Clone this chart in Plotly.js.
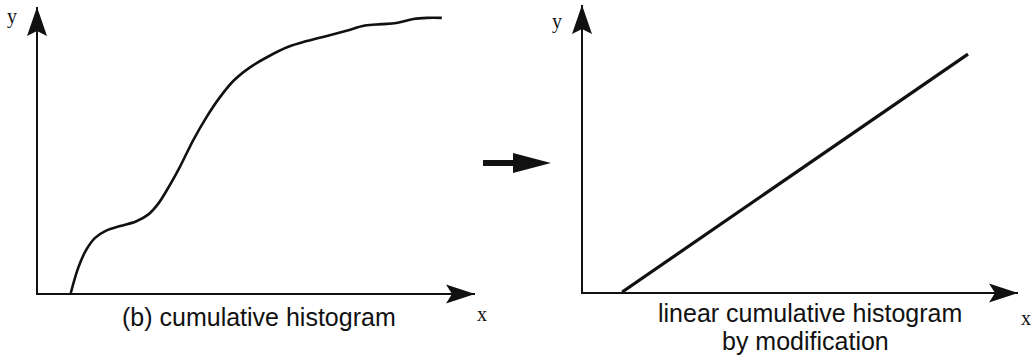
<!DOCTYPE html>
<html>
<head>
<meta charset="utf-8">
<script src="https://cdn.plot.ly/plotly-3.0.1.min.js"></script>
<style>html,body{margin:0;padding:0;background:#fff;}#chart{width:1033px;height:361px;}</style>
</head>
<body>
<div id="chart"></div>
<script>
// ---- data ----
const leftX = [7.5, 9.2, 11.0, 13.0, 15.6, 18.8, 22.4, 25.2, 27.4, 29.5, 32.5, 35.5, 38.6, 41.6, 44.8, 48.6, 52.6, 57.0, 61.5, 66.1, 70.6, 74.8, 78.5, 82.0, 85.9, 89.0, 92.4];
const leftY = [0, 8.8, 15.0, 19.2, 21.8, 23.4, 25.0, 27.4, 31.0, 36.0, 44.2, 53.4, 61.6, 68.4, 74.3, 79.0, 82.6, 85.9, 88.1, 89.9, 91.7, 93.5, 94.0, 94.4, 95.8, 96.2, 96.2];
const rightX = [9.0, 88.5];
const rightY = [0, 82.9];
const axisNames = ['x', 'y'];
const leftCaption = '(b) cumulative histogram';
const rightCaption = ['linear cumulative histogram', 'by modification'];

// ---- geometry ----
const W = 1033, H = 361;
const px = v => v / W;
const py = v => 1 - v / H;
const P = (x, y) => px(x) + ',' + py(y);
const ink = '#111';

// panel frames in pixels: origin and arrow tips
const L = {x0: 38, y0: 293, x1: 475, y1: 7};
const R = {x0: 583, y0: 292, x1: 1018, y1: 5};

function axisDef(d0, d1, anchor) {
  return {domain: [d0, d1], range: [0, 100], anchor: anchor, showline: true, linewidth: 2,
    linecolor: ink, showgrid: false, zeroline: false, showticklabels: false, ticks: '', fixedrange: true};
}

function arrowUp(tx, ty) {
  return {type: 'path', xref: 'paper', yref: 'paper', fillcolor: ink, line: {width: 0},
    path: 'M' + P(tx, ty) + ' L' + P(tx + 10, ty + 29) + ' L' + P(tx, ty + 24) + ' L' + P(tx - 10, ty + 29) + ' Z'};
}
function arrowRight(tx, ty) {
  return {type: 'path', xref: 'paper', yref: 'paper', fillcolor: ink, line: {width: 0},
    path: 'M' + P(tx, ty) + ' L' + P(tx - 29, ty + 9.5) + ' L' + P(tx - 23, ty) + ' L' + P(tx - 29, ty - 9.5) + ' Z'};
}

const traces = [
  {x: leftX, y: leftY, xaxis: 'x', yaxis: 'y', mode: 'lines', type: 'scatter',
   line: {color: ink, width: 2.6, shape: 'spline', smoothing: 1.0}, hoverinfo: 'skip'},
  {x: rightX, y: rightY, xaxis: 'x2', yaxis: 'y2', mode: 'lines', type: 'scatter',
   line: {color: ink, width: 3.2}, hoverinfo: 'skip'}
];

const serif = {family: 'Liberation Serif, Times New Roman, serif', size: 20, color: ink};
const sans = {family: 'Liberation Sans, Arial, Helvetica, sans-serif', size: 25, color: ink};
function ann(text, x, y, font) {
  return {text: text, x: px(x), y: py(y), xref: 'paper', yref: 'paper', showarrow: false,
    xanchor: 'center', yanchor: 'middle', font: font};
}

const layout = {
  width: W, height: H, margin: {l: 0, r: 0, t: 0, b: 0},
  paper_bgcolor: '#fff', plot_bgcolor: 'rgba(0,0,0,0)', showlegend: false,
  xaxis: axisDef(px(L.x0), px(L.x1), 'y'),
  yaxis: axisDef(py(L.y0), py(L.y1), 'x'),
  xaxis2: axisDef(px(R.x0), px(R.x1), 'y2'),
  yaxis2: axisDef(py(R.y0), py(R.y1), 'x2'),
  shapes: [
    arrowUp(L.x0 - 1, L.y1), arrowRight(L.x1, L.y0 + 1),
    arrowUp(R.x0 - 1, R.y1), arrowRight(R.x1, R.y0 + 1),
    {type: 'path', xref: 'paper', yref: 'paper', fillcolor: ink, line: {width: 0},
     path: 'M' + P(483, 160) + ' L' + P(513, 160) + ' L' + P(513, 153) + ' L' + P(551, 163) +
           ' L' + P(513, 173) + ' L' + P(513, 166) + ' L' + P(483, 166) + ' Z'}
  ],
  annotations: [
    ann(axisNames[1], 12, 17, serif),
    ann(axisNames[0], 482, 314, serif),
    ann(axisNames[1], 557, 21, serif),
    ann(axisNames[0], 1026, 318, serif),
    ann(leftCaption, 259, 317, sans),
    ann(rightCaption[0], 810, 313, sans),
    ann(rightCaption[1], 805, 341, sans)
  ]
};

Plotly.newPlot('chart', traces, layout, {staticPlot: true, displayModeBar: false});
</script>
</body>
</html>
